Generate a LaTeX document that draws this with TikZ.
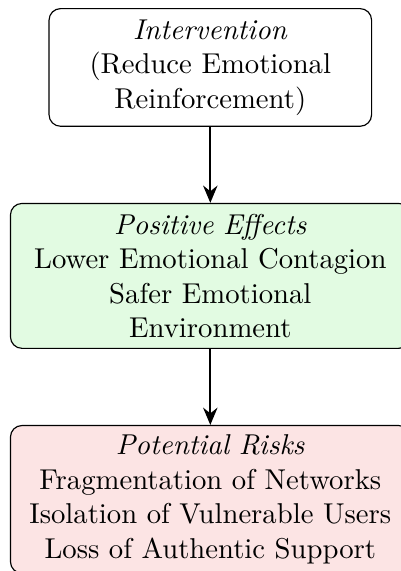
\documentclass[tikz,border=0pt]{standalone}
\usepackage{tikz}
\usetikzlibrary{positioning,arrows.meta}
\definecolor{effectclr}{HTML}{E2FBE2}
\definecolor{riskclr}{HTML}{FCE4E4}

\begin{document}
\begin{tikzpicture}[
    stage/.style={rounded corners=4pt, draw=black, align=center, font=\normalsize,
                  inner sep=3.3pt},
    flow/.style={-{Stealth[length=6pt,width=5pt]}, thick},
  ]
  \useasboundingbox (-73.3pt,2.8pt) rectangle (66.4pt,-196.2pt);

  \node[stage, text width=105.8pt, minimum height=41pt, anchor=north] (iv) at (0,0)
    {\textit{Intervention}\\(Reduce Emotional\\Reinforcement)};
  \node[stage, fill=effectclr, text width=132.7pt, minimum height=50.5pt,
        below=26.5pt of iv] (pe)
    {\textit{Positive Effects}\\Lower Emotional Contagion\\Safer Emotional\\Environment};
  \node[stage, fill=riskclr, text width=132.7pt, minimum height=50.5pt,
        below=26.5pt of pe] (pr)
    {\textit{Potential Risks}\\Fragmentation of Networks\\Isolation of Vulnerable Users\\Loss of Authentic Support};

  \draw[flow] (iv) -- (pe);
  \draw[flow] (pe) -- (pr);
\end{tikzpicture}
\end{document}
